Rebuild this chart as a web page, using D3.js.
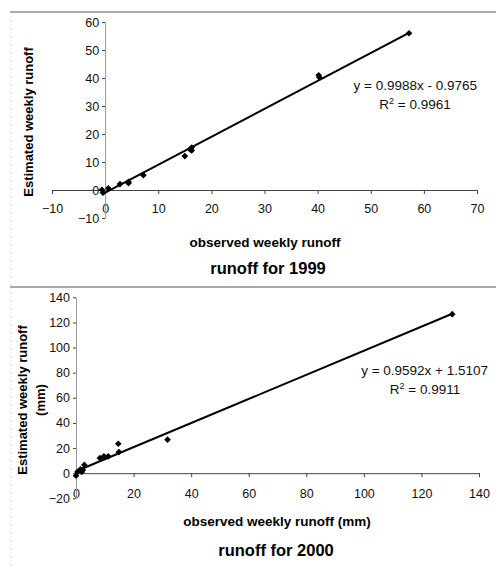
<!DOCTYPE html>
<html>
<head>
<meta charset="utf-8">
<script src="https://cdn.jsdelivr.net/npm/d3@7"></script>
<style>
  body { margin: 0; background: #fff; }
  svg { font-family: "Liberation Sans", Arial, sans-serif; }
</style>
</head>
<body>
<div id="chart"></div>
<script>
// runoff 1999
const obs1999 = [-0.6, -0.4, 0.6, 2.8, 4.4, 4.4, 7.2, 15, 16, 16.3, 16.3, 40.2, 40.3, 57.2];
const est1999 = [0.1, -1, 0.6, 2.1, 2.9, 2.4, 5.3, 12.1, 14.5, 15.2, 14.1, 41, 40.3, 56];
const xTicks1999 = [-10, 0, 10, 20, 30, 40, 50, 60, 70];
const yTicks1999 = [-10, 0, 10, 20, 30, 40, 50, 60];
const fit1999 = { slope: 0.9988, intercept: -0.9765, r2: "0.9961" };

// runoff 2000
const obs2000 = [0, 0.5, 1.5, 2, 2.4, 2.9, 8.3, 9.7, 11.2, 14.7, 14.9, 31.8, 130.7];
const est2000 = [-2, 1, 3, 1, 2.5, 6.6, 12, 13.4, 13.4, 23.4, 16.8, 26.7, 126.6];
const xTicks2000 = [0, 20, 40, 60, 80, 100, 120, 140];
const yTicks2000 = [-20, 0, 20, 40, 60, 80, 100, 120, 140];
const fit2000 = { slope: 0.9592, intercept: 1.5107, r2: "0.9911" };

const svg = d3.select("#chart").append("svg")
    .attr("width", 500)
    .attr("height", 580);

// frame lines of the scanned page
svg.append("line")
    .attr("x1", 10).attr("x2", 496).attr("y1", 12).attr("y2", 12)
    .attr("stroke", "#555").attr("stroke-width", 1);
svg.append("line")
    .attr("x1", 10).attr("x2", 496).attr("y1", 287).attr("y2", 287)
    .attr("stroke", "#555").attr("stroke-width", 1);
svg.append("line")
    .attr("x1", 11).attr("x2", 11).attr("y1", 20).attr("y2", 570)
    .attr("stroke", "#ccc").attr("stroke-dasharray", "2,6");

function drawScatter(cfg) {
    const x = d3.scaleLinear().domain(cfg.xDomain).range(cfg.xRange);
    const y = d3.scaleLinear().domain(cfg.yDomain).range(cfg.yRange);
    const g = svg.append("g");

    // x axis crosses at y = 0
    const xAxis = g.append("g")
        .attr("transform", `translate(0,${y(0)})`)
        .call(d3.axisBottom(x).tickValues(cfg.xTicks).tickSize(4).tickSizeOuter(0));
    xAxis.select(".domain").attr("stroke", "#444");
    xAxis.selectAll(".tick line").attr("stroke", "#444");
    xAxis.selectAll(".tick text")
        .attr("font-size", 12.5)
        .attr("fill", "#111")
        .attr("y", cfg.xLabelDy);

    // y axis crosses at x = 0
    const yAxis = g.append("g")
        .attr("transform", `translate(${x(0)},0)`)
        .call(d3.axisLeft(y).tickValues(cfg.yTicks).tickSize(3).tickSizeOuter(0));
    yAxis.select(".domain").attr("stroke", "#999");
    yAxis.selectAll(".tick line").attr("stroke", "#444");
    yAxis.selectAll(".tick text").attr("font-size", 12.5).attr("fill", "#111").attr("x", -6);

    // trendline
    const xs = d3.extent(cfg.obs);
    g.append("line")
        .attr("x1", x(xs[0])).attr("y1", y(cfg.fit.slope * xs[0] + cfg.fit.intercept))
        .attr("x2", x(xs[1])).attr("y2", y(cfg.fit.slope * xs[1] + cfg.fit.intercept))
        .attr("stroke", "#000").attr("stroke-width", 2);

    // diamond markers
    const diamond = d3.symbol().type(d3.symbolDiamond2).size(28);
    g.selectAll(".pt")
        .data(cfg.obs.map((d, i) => [d, cfg.est[i]]))
        .enter().append("path")
        .attr("class", "pt")
        .attr("d", diamond)
        .attr("transform", d => `translate(${x(d[0])},${y(d[1])})`)
        .attr("fill", "#000");

    // equation
    const sign = cfg.fit.intercept < 0 ? "-" : "+";
    g.append("text")
        .attr("x", cfg.eqX).attr("y", cfg.eqY)
        .attr("text-anchor", "end")
        .attr("font-size", 13.5)
        .attr("fill", "#111")
        .text(`y = ${cfg.fit.slope.toFixed(4)}x ${sign} ${Math.abs(cfg.fit.intercept).toFixed(4)}`);
    const r = g.append("text")
        .attr("x", cfg.r2X).attr("y", cfg.eqY + 19)
        .attr("text-anchor", "middle")
        .attr("font-size", 13.5)
        .attr("fill", "#111");
    r.append("tspan").text("R");
    r.append("tspan").attr("dy", -5).attr("font-size", 9).text("2");
    r.append("tspan").attr("dy", 5).text(` = ${cfg.fit.r2}`);

    // axis titles
    const yt = g.append("text")
        .attr("transform", `translate(${cfg.yTitleX},${cfg.yTitleY}) rotate(-90)`)
        .attr("text-anchor", "middle")
        .attr("font-size", 13)
        .attr("font-weight", "bold");
    cfg.yTitle.forEach((t, i) => {
        yt.append("tspan").attr("x", 0).attr("dy", i === 0 ? 0 : 18).text(t);
    });
    g.append("text")
        .attr("x", cfg.xTitleX).attr("y", cfg.xTitleY)
        .attr("text-anchor", "middle")
        .attr("font-size", 13.5)
        .attr("font-weight", "bold")
        .text(cfg.xTitle);
    g.append("text")
        .attr("x", cfg.titleX).attr("y", cfg.titleY)
        .attr("text-anchor", "middle")
        .attr("font-size", 16.5)
        .attr("font-weight", "bold")
        .text(cfg.title);
}

drawScatter({
    obs: obs1999, est: est1999, fit: fit1999,
    xDomain: [-10, 70], xRange: [52, 477],
    yDomain: [-10, 60], yRange: [218, 22],
    xTicks: xTicks1999, yTicks: yTicks1999,
    xLabelDy: 14,
    eqX: 477, eqY: 90, r2X: 415,
    yTitle: ["Estimated weekly runoff"], yTitleX: 33, yTitleY: 122,
    xTitle: "observed weekly runoff", xTitleX: 265, xTitleY: 247,
    title: "runoff for 1999", titleX: 268, titleY: 274
});

drawScatter({
    obs: obs2000, est: est2000, fit: fit2000,
    xDomain: [0, 140], xRange: [76, 479],
    yDomain: [-20, 140], yRange: [498.3, 297.3],
    xTicks: xTicks2000, yTicks: yTicks2000,
    xLabelDy: 16,
    eqX: 488, eqY: 375, r2X: 425,
    yTitle: ["Estimated weekly runoff", "(mm)"], yTitleX: 27, yTitleY: 400,
    xTitle: "observed weekly runoff (mm)", xTitleX: 277, xTitleY: 526,
    title: "runoff for 2000", titleX: 276, titleY: 556
});
</script>
</body>
</html>
